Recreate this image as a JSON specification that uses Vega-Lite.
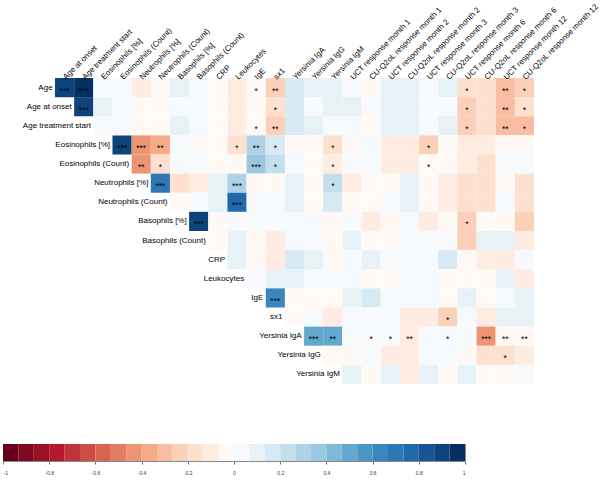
{
"$schema": "https://vega.github.io/schema/vega-lite/v6.json",
"padding": {"left": 2, "top": 2, "right": 0, "bottom": 0},
"background": "white",
"config": {"font": "Liberation Sans"},
"spacing": 59,
"datasets": {
"cells": [
{"row":"Age","col":"Age at onset","r":0.9,"s":"***"},
{"row":"Age","col":"Age treatment start","r":0.96,"s":"***"},
{"row":"Age","col":"Eosinophils [%]","r":0.03},
{"row":"Age","col":"Eosinophils (Count)","r":0.02},
{"row":"Age","col":"Neutrophils [%]","r":-0.08},
{"row":"Age","col":"Neutrophils (Count)","r":-0.06},
{"row":"Age","col":"Basophils [%]","r":0.1},
{"row":"Age","col":"Basophils (Count)","r":0.04},
{"row":"Age","col":"CRP","r":-0.03},
{"row":"Age","col":"Leukocytes","r":-0.1},
{"row":"Age","col":"IgE","r":-0.06,"s":"*"},
{"row":"Age","col":"sx1","r":-0.22,"s":"**"},
{"row":"Age","col":"Yersinia IgA","r":0.15},
{"row":"Age","col":"Yersinia IgG","r":0.08},
{"row":"Age","col":"Yersinia IgM","r":0.08},
{"row":"Age","col":"UCT response month 1","r":0.03},
{"row":"Age","col":"CU-Q2oL response month 1","r":-0.02},
{"row":"Age","col":"UCT response month 2","r":0.08},
{"row":"Age","col":"CU-Q2oL response month 2","r":0.08},
{"row":"Age","col":"UCT response month 3","r":0.03},
{"row":"Age","col":"CU-Q2oL response month 3","r":0.08},
{"row":"Age","col":"UCT response month 6","r":-0.18,"s":"*"},
{"row":"Age","col":"CU-Q2oL response month 6","r":-0.17},
{"row":"Age","col":"UCT response month 12","r":-0.3,"s":"**"},
{"row":"Age","col":"CU-Q2oL response month 12","r":-0.22,"s":"*"},
{"row":"Age at onset","col":"Age treatment start","r":0.92,"s":"***"},
{"row":"Age at onset","col":"Eosinophils [%]","r":0.08},
{"row":"Age at onset","col":"Eosinophils (Count)","r":0.01},
{"row":"Age at onset","col":"Neutrophils [%]","r":-0.05},
{"row":"Age at onset","col":"Neutrophils (Count)","r":-0.02},
{"row":"Age at onset","col":"Basophils [%]","r":0.04},
{"row":"Age at onset","col":"Basophils (Count)","r":0.03},
{"row":"Age at onset","col":"CRP","r":-0.02},
{"row":"Age at onset","col":"Leukocytes","r":-0.12},
{"row":"Age at onset","col":"IgE","r":-0.04},
{"row":"Age at onset","col":"sx1","r":-0.18,"s":"*"},
{"row":"Age at onset","col":"Yersinia IgA","r":0.15},
{"row":"Age at onset","col":"Yersinia IgG","r":0.01},
{"row":"Age at onset","col":"Yersinia IgM","r":0.07},
{"row":"Age at onset","col":"UCT response month 1","r":0.07},
{"row":"Age at onset","col":"CU-Q2oL response month 1","r":0.01},
{"row":"Age at onset","col":"UCT response month 2","r":0.08},
{"row":"Age at onset","col":"CU-Q2oL response month 2","r":0.08},
{"row":"Age at onset","col":"UCT response month 3","r":0.02},
{"row":"Age at onset","col":"CU-Q2oL response month 3","r":0.02},
{"row":"Age at onset","col":"UCT response month 6","r":-0.22,"s":"*"},
{"row":"Age at onset","col":"CU-Q2oL response month 6","r":-0.15},
{"row":"Age at onset","col":"UCT response month 12","r":-0.3,"s":"**"},
{"row":"Age at onset","col":"CU-Q2oL response month 12","r":-0.18,"s":"*"},
{"row":"Age treatment start","col":"Eosinophils [%]","r":0.02},
{"row":"Age treatment start","col":"Eosinophils (Count)","r":0.01},
{"row":"Age treatment start","col":"Neutrophils [%]","r":-0.04},
{"row":"Age treatment start","col":"Neutrophils (Count)","r":-0.02},
{"row":"Age treatment start","col":"Basophils [%]","r":0.1},
{"row":"Age treatment start","col":"Basophils (Count)","r":0.04},
{"row":"Age treatment start","col":"CRP","r":-0.02},
{"row":"Age treatment start","col":"Leukocytes","r":-0.1},
{"row":"Age treatment start","col":"IgE","r":-0.05,"s":"*"},
{"row":"Age treatment start","col":"sx1","r":-0.22,"s":"**"},
{"row":"Age treatment start","col":"Yersinia IgA","r":0.15},
{"row":"Age treatment start","col":"Yersinia IgG","r":0.08},
{"row":"Age treatment start","col":"Yersinia IgM","r":0.03},
{"row":"Age treatment start","col":"UCT response month 1","r":0.02},
{"row":"Age treatment start","col":"CU-Q2oL response month 1","r":-0.02},
{"row":"Age treatment start","col":"UCT response month 2","r":0.08},
{"row":"Age treatment start","col":"CU-Q2oL response month 2","r":0.08},
{"row":"Age treatment start","col":"UCT response month 3","r":0.02},
{"row":"Age treatment start","col":"CU-Q2oL response month 3","r":0.08},
{"row":"Age treatment start","col":"UCT response month 6","r":-0.22,"s":"*"},
{"row":"Age treatment start","col":"CU-Q2oL response month 6","r":-0.15},
{"row":"Age treatment start","col":"UCT response month 12","r":-0.3,"s":"**"},
{"row":"Age treatment start","col":"CU-Q2oL response month 12","r":-0.28,"s":"*"},
{"row":"Eosinophils [%]","col":"Eosinophils (Count)","r":0.9,"s":"***"},
{"row":"Eosinophils [%]","col":"Neutrophils [%]","r":-0.45,"s":"***"},
{"row":"Eosinophils [%]","col":"Neutrophils (Count)","r":-0.35,"s":"**"},
{"row":"Eosinophils [%]","col":"Basophils [%]","r":0.04},
{"row":"Eosinophils [%]","col":"Basophils (Count)","r":-0.02},
{"row":"Eosinophils [%]","col":"CRP","r":-0.02},
{"row":"Eosinophils [%]","col":"Leukocytes","r":-0.2,"s":"*"},
{"row":"Eosinophils [%]","col":"IgE","r":0.33,"s":"**"},
{"row":"Eosinophils [%]","col":"sx1","r":0.15,"s":"*"},
{"row":"Eosinophils [%]","col":"Yersinia IgA","r":-0.03},
{"row":"Eosinophils [%]","col":"Yersinia IgG","r":-0.02},
{"row":"Eosinophils [%]","col":"Yersinia IgM","r":-0.17,"s":"*"},
{"row":"Eosinophils [%]","col":"UCT response month 1","r":-0.02},
{"row":"Eosinophils [%]","col":"CU-Q2oL response month 1","r":0.03},
{"row":"Eosinophils [%]","col":"UCT response month 2","r":-0.08},
{"row":"Eosinophils [%]","col":"CU-Q2oL response month 2","r":-0.08},
{"row":"Eosinophils [%]","col":"UCT response month 3","r":-0.22,"s":"*"},
{"row":"Eosinophils [%]","col":"CU-Q2oL response month 3","r":-0.06},
{"row":"Eosinophils [%]","col":"UCT response month 6","r":-0.12},
{"row":"Eosinophils [%]","col":"CU-Q2oL response month 6","r":-0.12},
{"row":"Eosinophils [%]","col":"UCT response month 12","r":-0.02},
{"row":"Eosinophils [%]","col":"CU-Q2oL response month 12","r":-0.02},
{"row":"Eosinophils (Count)","col":"Neutrophils [%]","r":-0.43,"s":"**"},
{"row":"Eosinophils (Count)","col":"Neutrophils (Count)","r":-0.17,"s":"*"},
{"row":"Eosinophils (Count)","col":"Basophils [%]","r":0.02},
{"row":"Eosinophils (Count)","col":"Basophils (Count)","r":0.01},
{"row":"Eosinophils (Count)","col":"CRP","r":-0.01},
{"row":"Eosinophils (Count)","col":"Leukocytes","r":-0.03},
{"row":"Eosinophils (Count)","col":"IgE","r":0.38,"s":"***"},
{"row":"Eosinophils (Count)","col":"sx1","r":0.22,"s":"*"},
{"row":"Eosinophils (Count)","col":"Yersinia IgA","r":0.02},
{"row":"Eosinophils (Count)","col":"Yersinia IgG","r":-0.01},
{"row":"Eosinophils (Count)","col":"Yersinia IgM","r":-0.12,"s":"*"},
{"row":"Eosinophils (Count)","col":"UCT response month 1","r":0.03},
{"row":"Eosinophils (Count)","col":"CU-Q2oL response month 1","r":0.02},
{"row":"Eosinophils (Count)","col":"UCT response month 2","r":-0.08},
{"row":"Eosinophils (Count)","col":"CU-Q2oL response month 2","r":-0.08},
{"row":"Eosinophils (Count)","col":"UCT response month 3","r":-0.01,"s":"*"},
{"row":"Eosinophils (Count)","col":"CU-Q2oL response month 3","r":-0.01},
{"row":"Eosinophils (Count)","col":"UCT response month 6","r":-0.12},
{"row":"Eosinophils (Count)","col":"CU-Q2oL response month 6","r":-0.18},
{"row":"Eosinophils (Count)","col":"UCT response month 12","r":0.02},
{"row":"Eosinophils (Count)","col":"CU-Q2oL response month 12","r":0.02},
{"row":"Neutrophils [%]","col":"Neutrophils (Count)","r":0.73,"s":"***"},
{"row":"Neutrophils [%]","col":"Basophils [%]","r":-0.15},
{"row":"Neutrophils [%]","col":"Basophils (Count)","r":-0.12},
{"row":"Neutrophils [%]","col":"CRP","r":0.1},
{"row":"Neutrophils [%]","col":"Leukocytes","r":0.3,"s":"***"},
{"row":"Neutrophils [%]","col":"IgE","r":-0.04},
{"row":"Neutrophils [%]","col":"sx1","r":-0.02},
{"row":"Neutrophils [%]","col":"Yersinia IgA","r":0.08},
{"row":"Neutrophils [%]","col":"Yersinia IgG","r":-0.01},
{"row":"Neutrophils [%]","col":"Yersinia IgM","r":0.22,"s":"*"},
{"row":"Neutrophils [%]","col":"UCT response month 1","r":-0.12},
{"row":"Neutrophils [%]","col":"CU-Q2oL response month 1","r":-0.06},
{"row":"Neutrophils [%]","col":"UCT response month 2","r":-0.01},
{"row":"Neutrophils [%]","col":"CU-Q2oL response month 2","r":0.08},
{"row":"Neutrophils [%]","col":"UCT response month 3","r":-0.02},
{"row":"Neutrophils [%]","col":"CU-Q2oL response month 3","r":-0.12},
{"row":"Neutrophils [%]","col":"UCT response month 6","r":-0.15},
{"row":"Neutrophils [%]","col":"CU-Q2oL response month 6","r":-0.2},
{"row":"Neutrophils [%]","col":"UCT response month 12","r":-0.02},
{"row":"Neutrophils [%]","col":"CU-Q2oL response month 12","r":-0.2},
{"row":"Neutrophils (Count)","col":"Basophils [%]","r":-0.05},
{"row":"Neutrophils (Count)","col":"Basophils (Count)","r":0.01},
{"row":"Neutrophils (Count)","col":"CRP","r":0.1},
{"row":"Neutrophils (Count)","col":"Leukocytes","r":0.75,"s":"***"},
{"row":"Neutrophils (Count)","col":"IgE","r":0.01},
{"row":"Neutrophils (Count)","col":"sx1","r":0.02},
{"row":"Neutrophils (Count)","col":"Yersinia IgA","r":0.08},
{"row":"Neutrophils (Count)","col":"Yersinia IgG","r":-0.01},
{"row":"Neutrophils (Count)","col":"Yersinia IgM","r":0.14},
{"row":"Neutrophils (Count)","col":"UCT response month 1","r":-0.02},
{"row":"Neutrophils (Count)","col":"CU-Q2oL response month 1","r":-0.02},
{"row":"Neutrophils (Count)","col":"UCT response month 2","r":0.03},
{"row":"Neutrophils (Count)","col":"CU-Q2oL response month 2","r":0.07},
{"row":"Neutrophils (Count)","col":"UCT response month 3","r":-0.03},
{"row":"Neutrophils (Count)","col":"CU-Q2oL response month 3","r":-0.12},
{"row":"Neutrophils (Count)","col":"UCT response month 6","r":-0.2},
{"row":"Neutrophils (Count)","col":"CU-Q2oL response month 6","r":-0.2},
{"row":"Neutrophils (Count)","col":"UCT response month 12","r":0.03},
{"row":"Neutrophils (Count)","col":"CU-Q2oL response month 12","r":-0.2},
{"row":"Basophils [%]","col":"Basophils (Count)","r":0.87,"s":"***"},
{"row":"Basophils [%]","col":"CRP","r":-0.05},
{"row":"Basophils [%]","col":"Leukocytes","r":0.01},
{"row":"Basophils [%]","col":"IgE","r":0.02},
{"row":"Basophils [%]","col":"sx1","r":0.01},
{"row":"Basophils [%]","col":"Yersinia IgA","r":0.01},
{"row":"Basophils [%]","col":"Yersinia IgG","r":0.01},
{"row":"Basophils [%]","col":"Yersinia IgM","r":-0.06},
{"row":"Basophils [%]","col":"UCT response month 1","r":0.02},
{"row":"Basophils [%]","col":"CU-Q2oL response month 1","r":-0.07},
{"row":"Basophils [%]","col":"UCT response month 2","r":-0.01},
{"row":"Basophils [%]","col":"CU-Q2oL response month 2","r":0.02},
{"row":"Basophils [%]","col":"UCT response month 3","r":-0.08},
{"row":"Basophils [%]","col":"CU-Q2oL response month 3","r":-0.02},
{"row":"Basophils [%]","col":"UCT response month 6","r":-0.25,"s":"*"},
{"row":"Basophils [%]","col":"CU-Q2oL response month 6","r":-0.04},
{"row":"Basophils [%]","col":"UCT response month 12","r":-0.04},
{"row":"Basophils [%]","col":"CU-Q2oL response month 12","r":-0.22},
{"row":"Basophils (Count)","col":"CRP","r":-0.03},
{"row":"Basophils (Count)","col":"Leukocytes","r":0.1},
{"row":"Basophils (Count)","col":"IgE","r":-0.03},
{"row":"Basophils (Count)","col":"sx1","r":-0.07},
{"row":"Basophils (Count)","col":"Yersinia IgA","r":0.02},
{"row":"Basophils (Count)","col":"Yersinia IgG","r":0.01},
{"row":"Basophils (Count)","col":"Yersinia IgM","r":-0.05},
{"row":"Basophils (Count)","col":"UCT response month 1","r":0.1},
{"row":"Basophils (Count)","col":"CU-Q2oL response month 1","r":-0.06},
{"row":"Basophils (Count)","col":"UCT response month 2","r":-0.01},
{"row":"Basophils (Count)","col":"CU-Q2oL response month 2","r":0.05},
{"row":"Basophils (Count)","col":"UCT response month 3","r":0.02},
{"row":"Basophils (Count)","col":"CU-Q2oL response month 3","r":0.01},
{"row":"Basophils (Count)","col":"UCT response month 6","r":-0.25},
{"row":"Basophils (Count)","col":"CU-Q2oL response month 6","r":0.07},
{"row":"Basophils (Count)","col":"UCT response month 12","r":0.07},
{"row":"Basophils (Count)","col":"CU-Q2oL response month 12","r":-0.12},
{"row":"CRP","col":"Leukocytes","r":0.07},
{"row":"CRP","col":"IgE","r":-0.02},
{"row":"CRP","col":"sx1","r":-0.07},
{"row":"CRP","col":"Yersinia IgA","r":0.15},
{"row":"CRP","col":"Yersinia IgG","r":0.12},
{"row":"CRP","col":"Yersinia IgM","r":-0.02},
{"row":"CRP","col":"UCT response month 1","r":0.02},
{"row":"CRP","col":"CU-Q2oL response month 1","r":0.12},
{"row":"CRP","col":"UCT response month 2","r":0.02},
{"row":"CRP","col":"CU-Q2oL response month 2","r":0.02},
{"row":"CRP","col":"UCT response month 3","r":0.06},
{"row":"CRP","col":"CU-Q2oL response month 3","r":0.17},
{"row":"CRP","col":"UCT response month 6","r":-0.02},
{"row":"CRP","col":"CU-Q2oL response month 6","r":-0.12},
{"row":"CRP","col":"UCT response month 12","r":-0.12},
{"row":"CRP","col":"CU-Q2oL response month 12","r":0.02},
{"row":"Leukocytes","col":"IgE","r":0.02},
{"row":"Leukocytes","col":"sx1","r":0.07},
{"row":"Leukocytes","col":"Yersinia IgA","r":0.1},
{"row":"Leukocytes","col":"Yersinia IgG","r":0.02},
{"row":"Leukocytes","col":"Yersinia IgM","r":0.02},
{"row":"Leukocytes","col":"UCT response month 1","r":0.02},
{"row":"Leukocytes","col":"CU-Q2oL response month 1","r":-0.02},
{"row":"Leukocytes","col":"UCT response month 2","r":-0.03},
{"row":"Leukocytes","col":"CU-Q2oL response month 2","r":0.01},
{"row":"Leukocytes","col":"UCT response month 3","r":0.02},
{"row":"Leukocytes","col":"CU-Q2oL response month 3","r":-0.06},
{"row":"Leukocytes","col":"UCT response month 6","r":-0.06},
{"row":"Leukocytes","col":"CU-Q2oL response month 6","r":-0.06},
{"row":"Leukocytes","col":"UCT response month 12","r":0.07},
{"row":"Leukocytes","col":"CU-Q2oL response month 12","r":-0.12},
{"row":"IgE","col":"sx1","r":0.63,"s":"***"},
{"row":"IgE","col":"Yersinia IgA","r":-0.02},
{"row":"IgE","col":"Yersinia IgG","r":-0.02},
{"row":"IgE","col":"Yersinia IgM","r":-0.03},
{"row":"IgE","col":"UCT response month 1","r":0.1},
{"row":"IgE","col":"CU-Q2oL response month 1","r":0.17},
{"row":"IgE","col":"UCT response month 2","r":0.02},
{"row":"IgE","col":"CU-Q2oL response month 2","r":0.02},
{"row":"IgE","col":"UCT response month 3","r":0.02},
{"row":"IgE","col":"CU-Q2oL response month 3","r":-0.03},
{"row":"IgE","col":"UCT response month 6","r":0.12},
{"row":"IgE","col":"CU-Q2oL response month 6","r":-0.03},
{"row":"IgE","col":"UCT response month 12","r":0.06},
{"row":"IgE","col":"CU-Q2oL response month 12","r":0.1},
{"row":"sx1","col":"Yersinia IgA","r":-0.02},
{"row":"sx1","col":"Yersinia IgG","r":0.01},
{"row":"sx1","col":"Yersinia IgM","r":-0.07},
{"row":"sx1","col":"UCT response month 1","r":0.01},
{"row":"sx1","col":"CU-Q2oL response month 1","r":0.01},
{"row":"sx1","col":"UCT response month 2","r":0.01},
{"row":"sx1","col":"CU-Q2oL response month 2","r":-0.07},
{"row":"sx1","col":"UCT response month 3","r":-0.07},
{"row":"sx1","col":"CU-Q2oL response month 3","r":-0.25,"s":"*"},
{"row":"sx1","col":"UCT response month 6","r":0.01},
{"row":"sx1","col":"CU-Q2oL response month 6","r":-0.12},
{"row":"sx1","col":"UCT response month 12","r":0.12},
{"row":"sx1","col":"CU-Q2oL response month 12","r":0.07},
{"row":"Yersinia IgA","col":"Yersinia IgG","r":0.47,"s":"***"},
{"row":"Yersinia IgA","col":"Yersinia IgM","r":0.47,"s":"**"},
{"row":"Yersinia IgA","col":"UCT response month 1","r":0.0},
{"row":"Yersinia IgA","col":"CU-Q2oL response month 1","r":0.01,"s":"*"},
{"row":"Yersinia IgA","col":"UCT response month 2","r":0.01,"s":"*"},
{"row":"Yersinia IgA","col":"CU-Q2oL response month 2","r":-0.1,"s":"**"},
{"row":"Yersinia IgA","col":"UCT response month 3","r":0.01},
{"row":"Yersinia IgA","col":"CU-Q2oL response month 3","r":0.01,"s":"*"},
{"row":"Yersinia IgA","col":"UCT response month 6","r":0.01},
{"row":"Yersinia IgA","col":"CU-Q2oL response month 6","r":-0.45,"s":"***"},
{"row":"Yersinia IgA","col":"UCT response month 12","r":-0.06,"s":"**"},
{"row":"Yersinia IgA","col":"CU-Q2oL response month 12","r":-0.06,"s":"**"},
{"row":"Yersinia IgG","col":"Yersinia IgM","r":-0.02},
{"row":"Yersinia IgG","col":"UCT response month 1","r":-0.01},
{"row":"Yersinia IgG","col":"CU-Q2oL response month 1","r":0.03},
{"row":"Yersinia IgG","col":"UCT response month 2","r":-0.07},
{"row":"Yersinia IgG","col":"CU-Q2oL response month 2","r":-0.07},
{"row":"Yersinia IgG","col":"UCT response month 3","r":0.06},
{"row":"Yersinia IgG","col":"CU-Q2oL response month 3","r":0.06},
{"row":"Yersinia IgG","col":"UCT response month 6","r":-0.02},
{"row":"Yersinia IgG","col":"CU-Q2oL response month 6","r":-0.14},
{"row":"Yersinia IgG","col":"UCT response month 12","r":-0.2,"s":"*"},
{"row":"Yersinia IgG","col":"CU-Q2oL response month 12","r":-0.08},
{"row":"Yersinia IgM","col":"UCT response month 1","r":0.1},
{"row":"Yersinia IgM","col":"CU-Q2oL response month 1","r":-0.02},
{"row":"Yersinia IgM","col":"UCT response month 2","r":0.07},
{"row":"Yersinia IgM","col":"CU-Q2oL response month 2","r":-0.07},
{"row":"Yersinia IgM","col":"UCT response month 3","r":0.07},
{"row":"Yersinia IgM","col":"CU-Q2oL response month 3","r":-0.02},
{"row":"Yersinia IgM","col":"UCT response month 6","r":0.13},
{"row":"Yersinia IgM","col":"CU-Q2oL response month 6","r":-0.03},
{"row":"Yersinia IgM","col":"UCT response month 12","r":-0.03},
{"row":"Yersinia IgM","col":"CU-Q2oL response month 12","r":0.02}
],
"labels": [
{"row":"Age","col":"Age at onset"},
{"row":"Age at onset","col":"Age treatment start"},
{"row":"Age treatment start","col":"Eosinophils [%]"},
{"row":"Eosinophils [%]","col":"Eosinophils (Count)"},
{"row":"Eosinophils (Count)","col":"Neutrophils [%]"},
{"row":"Neutrophils [%]","col":"Neutrophils (Count)"},
{"row":"Neutrophils (Count)","col":"Basophils [%]"},
{"row":"Basophils [%]","col":"Basophils (Count)"},
{"row":"Basophils (Count)","col":"CRP"},
{"row":"CRP","col":"Leukocytes"},
{"row":"Leukocytes","col":"IgE"},
{"row":"IgE","col":"sx1"},
{"row":"sx1","col":"Yersinia IgA"},
{"row":"Yersinia IgA","col":"Yersinia IgG"},
{"row":"Yersinia IgG","col":"Yersinia IgM"},
{"row":"Yersinia IgM","col":"UCT response month 1"}
],
"bins": [
{"lo":-1,"hi":-0.9333,"mid":-0.9667},
{"lo":-0.9333,"hi":-0.8667,"mid":-0.9},
{"lo":-0.8667,"hi":-0.8,"mid":-0.8333},
{"lo":-0.8,"hi":-0.7333,"mid":-0.7667},
{"lo":-0.7333,"hi":-0.6667,"mid":-0.7},
{"lo":-0.6667,"hi":-0.6,"mid":-0.6333},
{"lo":-0.6,"hi":-0.5333,"mid":-0.5667},
{"lo":-0.5333,"hi":-0.4667,"mid":-0.5},
{"lo":-0.4667,"hi":-0.4,"mid":-0.4333},
{"lo":-0.4,"hi":-0.3333,"mid":-0.3667},
{"lo":-0.3333,"hi":-0.2667,"mid":-0.3},
{"lo":-0.2667,"hi":-0.2,"mid":-0.2333},
{"lo":-0.2,"hi":-0.1333,"mid":-0.1667},
{"lo":-0.1333,"hi":-0.0667,"mid":-0.1},
{"lo":-0.0667,"hi":0,"mid":-0.0333},
{"lo":0,"hi":0.0667,"mid":0.0333},
{"lo":0.0667,"hi":0.1333,"mid":0.1},
{"lo":0.1333,"hi":0.2,"mid":0.1667},
{"lo":0.2,"hi":0.2667,"mid":0.2333},
{"lo":0.2667,"hi":0.3333,"mid":0.3},
{"lo":0.3333,"hi":0.4,"mid":0.3667},
{"lo":0.4,"hi":0.4667,"mid":0.4333},
{"lo":0.4667,"hi":0.5333,"mid":0.5},
{"lo":0.5333,"hi":0.6,"mid":0.5667},
{"lo":0.6,"hi":0.6667,"mid":0.6333},
{"lo":0.6667,"hi":0.7333,"mid":0.7},
{"lo":0.7333,"hi":0.8,"mid":0.7667},
{"lo":0.8,"hi":0.8667,"mid":0.8333},
{"lo":0.8667,"hi":0.9333,"mid":0.9},
{"lo":0.9333,"hi":1,"mid":0.9667}
]
},
"vconcat": [
{
"width": 531,
"height": 306,
"view": {"stroke": null},
"encoding": {
"x": {"field": "col", "type": "nominal", "title": null,
"scale": {"domain": ["Age at onset","Age treatment start","Eosinophils [%]","Eosinophils (Count)","Neutrophils [%]","Neutrophils (Count)","Basophils [%]","Basophils (Count)","CRP","Leukocytes","IgE","sx1","Yersinia IgA","Yersinia IgG","Yersinia IgM","UCT response month 1","CU-Q2oL response month 1","UCT response month 2","CU-Q2oL response month 2","UCT response month 3","CU-Q2oL response month 3","UCT response month 6","CU-Q2oL response month 6","UCT response month 12","CU-Q2oL response month 12"], "paddingInner": 0, "paddingOuter": 0, "range": [52, 531]},
"axis": {"orient": "top", "labelAngle": -45, "labelAlign": "left", "labelBaseline": "middle", "domain": false, "ticks": false, "tickSize": 0, "labelPadding": 0, "labelOffset": 0, "labelFontSize": 7.9, "labelColor": "#000", "labelLimit": 300, "grid": false}},
"y": {"field": "row", "type": "nominal", "title": null,
"scale": {"domain": ["Age","Age at onset","Age treatment start","Eosinophils [%]","Eosinophils (Count)","Neutrophils [%]","Neutrophils (Count)","Basophils [%]","Basophils (Count)","CRP","Leukocytes","IgE","sx1","Yersinia IgA","Yersinia IgG","Yersinia IgM"], "paddingInner": 0, "paddingOuter": 0},
"axis": null}
},
"layer": [
{"data": {"name": "cells"}, "mark": {"type": "rect"},
"encoding": {"color": {"field": "r", "type": "quantitative", "legend": null,
"scale": {"type": "quantize", "domain": [-1, 1], "nice": false, "range": ["#67001F","#810823","#9B1127","#B31A2C","#C03338","#CC4C44","#D86551","#E27D63","#ED9475","#F5AB89","#F8BDA2","#FBD0B9","#FDE0CF","#FEECE2","#FFF9F5","#F7FAFC","#E7F2F7","#D7E9F2","#C4DEEC","#AED3E6","#99C8E0","#7FB9D8","#64A8CE","#4996C5","#3A87BD","#2E77B5","#2268AD","#185595","#0F437B","#053061"]}}}},
{"data": {"name": "cells"}, "transform": [{"filter": "datum.s"}],
"mark": {"type": "text", "fontSize": 8.5, "color": "#000", "baseline": "middle", "dy": 3},
"encoding": {"text": {"field": "s"}}},
{"data": {"name": "labels"},
"mark": {"type": "text", "fontSize": 8, "color": "#000", "align": "right", "baseline": "middle", "dx": -12},
"encoding": {"text": {"field": "row"}}}
]
},
{
"data": {"name": "bins"},
"width": 462,
"height": 17,
"view": {"stroke": "#888", "strokeWidth": 1},
"mark": {"type": "rect"},
"encoding": {
"x": {"field": "lo", "type": "quantitative", "title": null,
"scale": {"domain": [-1, 1], "nice": false, "zero": false},
"axis": {"values": [-1,-0.8,-0.6,-0.4,-0.2,0,0.2,0.4,0.6,0.8,1], "domain": false, "grid": false, "tickSize": 3, "tickColor": "#777", "labelFontSize": 5, "labelColor": "#333", "labelPadding": 6,
"labelExpr": "datum.value < 0 ? '-' + format(-datum.value, '') : format(datum.value, '')"}},
"x2": {"field": "hi"},
"color": {"field": "mid", "type": "quantitative", "legend": null,
"scale": {"type": "quantize", "domain": [-1, 1], "nice": false, "range": ["#67001F","#810823","#9B1127","#B31A2C","#C03338","#CC4C44","#D86551","#E27D63","#ED9475","#F5AB89","#F8BDA2","#FBD0B9","#FDE0CF","#FEECE2","#FFF9F5","#F7FAFC","#E7F2F7","#D7E9F2","#C4DEEC","#AED3E6","#99C8E0","#7FB9D8","#64A8CE","#4996C5","#3A87BD","#2E77B5","#2268AD","#185595","#0F437B","#053061"]}}
}
}
]
}
